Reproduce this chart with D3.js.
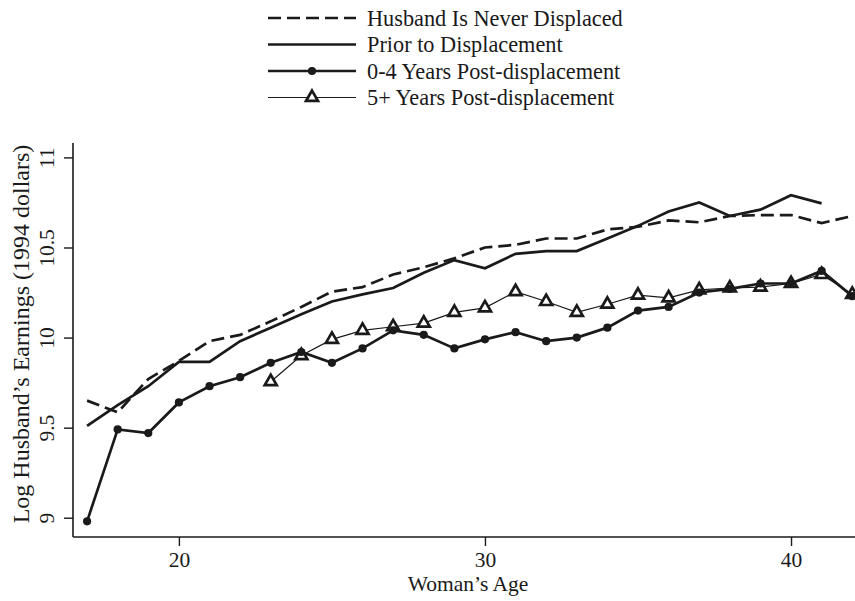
<!DOCTYPE html>
<html>
<head>
<meta charset="utf-8">
<script src="https://cdn.jsdelivr.net/npm/d3@7"></script>
<style>
  html, body { margin: 0; padding: 0; background: #fff; }
  svg { display: block; }
  text { font-family: "Liberation Serif", "Times New Roman", serif; fill: #1a1a1a; }
</style>
</head>
<body>
<script>
// ---- Data ----
const agesAll = [17,18,19,20,21,22,23,24,25,26,27,28,29,30,31,32,33,34,35,36,37,38,39,40,41,42];
const agesPrior = [17,18,19,20,21,22,23,24,25,26,27,28,29,30,31,32,33,34,35,36,37,38,39,40,41];
const agesPost5 = [23,24,25,26,27,28,29,30,31,32,33,34,35,36,37,38,39,40,41,42];

const neverDisplaced = [9.65, 9.585, 9.77, 9.87, 9.98, 10.015, 10.09, 10.17, 10.255, 10.28, 10.35, 10.39, 10.44, 10.50, 10.515, 10.55, 10.55, 10.60, 10.615, 10.65, 10.64, 10.675, 10.68, 10.68, 10.635, 10.675];
const priorToDisplacement = [9.51, 9.625, 9.73, 9.865, 9.865, 9.98, 10.055, 10.13, 10.20, 10.24, 10.275, 10.36, 10.43, 10.385, 10.465, 10.48, 10.48, 10.55, 10.62, 10.70, 10.75, 10.675, 10.71, 10.79, 10.745];
const post0to4 = [8.98, 9.49, 9.47, 9.64, 9.73, 9.78, 9.86, 9.92, 9.86, 9.94, 10.04, 10.015, 9.94, 9.99, 10.03, 9.98, 10.0, 10.055, 10.15, 10.17, 10.25, 10.27, 10.30, 10.30, 10.37, 10.23];
const post5plus = [9.755, 9.90, 9.99, 10.04, 10.06, 10.08, 10.14, 10.165, 10.255, 10.20, 10.14, 10.185, 10.235, 10.22, 10.265, 10.275, 10.28, 10.30, 10.35, 10.24];

const xTicks = [20, 30, 40];
const yTicks = [9, 9.5, 10, 10.5, 11];
const yTickLabels = ["9", "9.5", "10", "10.5", "11"];
const legendLabels = ["Husband Is Never Displaced", "Prior to Displacement", "0-4 Years Post-displacement", "5+ Years Post-displacement"];
const xTitle = "Woman\u2019s Age";
const yTitle = "Log Husband\u2019s Earnings (1994 dollars)";

// ---- Layout ----
const W = 855, H = 601;
const ink = "#1a1a1a";
const svg = d3.select("body").append("svg").attr("width", W).attr("height", H);

const x = d3.scaleLinear().domain([16.54, 42.09]).range([73, 855]);
const y = d3.scaleLinear().domain([8.893, 11.08]).range([537, 143]);

// axes
const xAxis = svg.append("g").attr("transform", `translate(0,${y.range()[0]})`)
  .call(d3.axisBottom(x).tickValues(xTicks).tickSize(9).tickPadding(6).tickFormat(d3.format("d")));
xAxis.select(".domain").attr("stroke", ink).attr("stroke-width", 1.6).attr("d", `M${x.range()[0]},0H${x.range()[1]}`);
xAxis.selectAll(".tick line").attr("stroke", ink).attr("stroke-width", 1.4);
xAxis.selectAll(".tick text").attr("font-size", 21.5).attr("font-family", "Liberation Serif").attr("fill", ink);

const yAxis = svg.append("g").attr("transform", `translate(${x.range()[0]},0)`)
  .call(d3.axisLeft(y).tickValues(yTicks).tickSize(9).tickFormat((d, i) => yTickLabels[i]));
yAxis.select(".domain").attr("stroke", ink).attr("stroke-width", 1.6).attr("d", `M0,${y.range()[0]}V${y.range()[1]}`);
yAxis.selectAll(".tick line").attr("stroke", ink).attr("stroke-width", 1.4);
yAxis.selectAll(".tick text")
  .attr("font-size", 21.5).attr("font-family", "Liberation Serif").attr("fill", ink)
  .attr("x", null).attr("dy", null)
  .attr("text-anchor", "middle")
  .attr("transform", "translate(-19,0) rotate(-90)")
  .attr("dy", "0");

svg.append("text").attr("x", 468).attr("y", 591).attr("text-anchor", "middle")
  .attr("font-size", 21.5).text(xTitle);
svg.append("text").attr("transform", `translate(29,334) rotate(-90)`)
  .attr("text-anchor", "middle").attr("font-size", 24).text(yTitle);

// ---- Series ----
const line = d3.line().x(d => x(d[0])).y(d => y(d[1]));
const zip = (a, b) => a.map((v, i) => [v, b[i]]);

const triPath = (s) => {
  const h = s * Math.sqrt(3) / 2;
  return `M0,${-2 * h / 3}L${s / 2},${h / 3}L${-s / 2},${h / 3}Z`;
};

// Never displaced (dashed)
svg.append("path").datum(zip(agesAll, neverDisplaced)).attr("d", line)
  .attr("fill", "none").attr("stroke", ink).attr("stroke-width", 2.7).attr("stroke-dasharray", "13,6");

// Prior (solid)
svg.append("path").datum(zip(agesPrior, priorToDisplacement)).attr("d", line)
  .attr("fill", "none").attr("stroke", ink).attr("stroke-width", 2.7);

// 5+ (thin line + triangles)
const p5 = zip(agesPost5, post5plus);
svg.append("path").datum(p5).attr("d", line)
  .attr("fill", "none").attr("stroke", ink).attr("stroke-width", 1.2);
svg.append("g").selectAll("path").data(p5).join("path")
  .attr("transform", d => `translate(${x(d[0])},${y(d[1])})`)
  .attr("d", triPath(12)).attr("fill", "#fff").attr("stroke", ink).attr("stroke-width", 2.7).attr("stroke-linejoin", "miter");

// 0-4 (thick line + dots)
const p04 = zip(agesAll, post0to4);
svg.append("path").datum(p04).attr("d", line)
  .attr("fill", "none").attr("stroke", ink).attr("stroke-width", 2.7);
svg.append("g").selectAll("circle").data(p04).join("circle")
  .attr("cx", d => x(d[0])).attr("cy", d => y(d[1])).attr("r", 4.1).attr("fill", ink);

// ---- Legend ----
const lg = svg.append("g");
const rowsY = [18, 44.5, 71, 97.5];
const lx0 = 268, lx1 = 356, ltx = 367;
const styles = [
  { w: 2.7, dash: "13,6", mark: null },
  { w: 2.7, dash: null, mark: null },
  { w: 2.7, dash: null, mark: "dot" },
  { w: 1.2, dash: null, mark: "tri" }
];
legendLabels.forEach((lab, i) => {
  const yy = rowsY[i], st = styles[i];
  const l = lg.append("line").attr("x1", lx0).attr("x2", lx1).attr("y1", yy).attr("y2", yy)
    .attr("stroke", ink).attr("stroke-width", st.w);
  if (st.dash) l.attr("stroke-dasharray", st.dash);
  if (st.mark === "dot") lg.append("circle").attr("cx", (lx0 + lx1) / 2).attr("cy", yy).attr("r", 4.1).attr("fill", ink);
  if (st.mark === "tri") lg.append("path").attr("transform", `translate(${(lx0 + lx1) / 2},${yy})`)
    .attr("d", triPath(12)).attr("fill", "#fff").attr("stroke", ink).attr("stroke-width", 2.7);
  lg.append("text").attr("x", ltx).attr("y", yy).attr("dy", "0.35em").attr("font-size", 22.3).text(lab);
});
</script>
</body>
</html>
